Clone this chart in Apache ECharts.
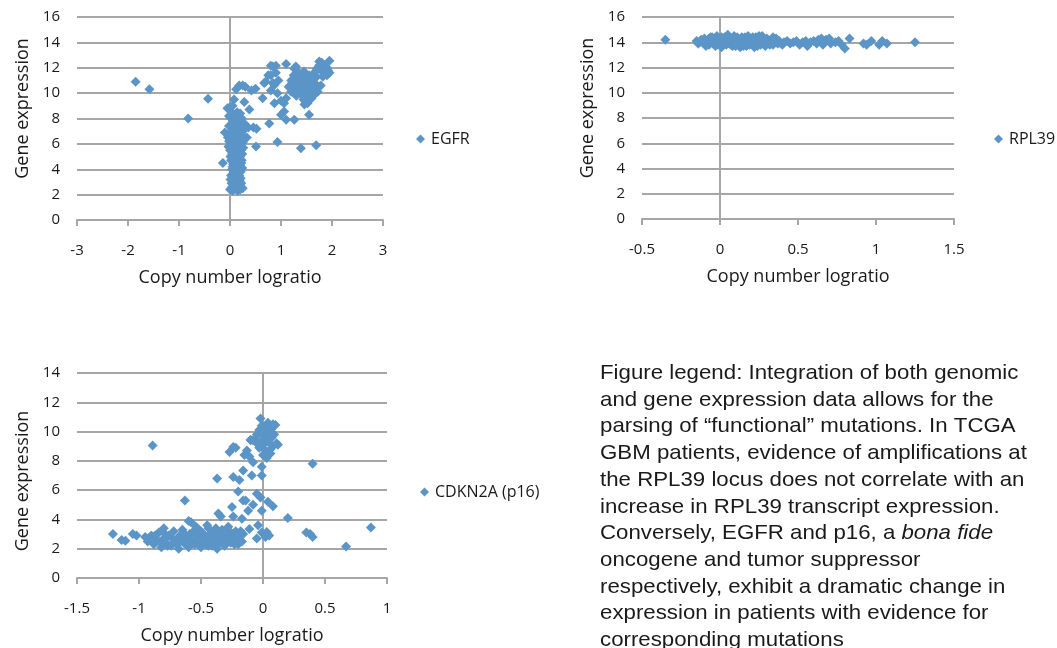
<!DOCTYPE html>
<html><head><meta charset="utf-8">
<script src="https://cdn.jsdelivr.net/npm/echarts@6/dist/echarts.min.js"></script>
<style>html,body{margin:0;padding:0;background:#fff}#c{width:1057px;height:648px}</style>
</head><body><div id="c"></div>
<script>
// ---------- DATA ----------
const egfrTicksX = [-3,-2,-1,0,1,2,3];
const rplTicksX = [-0.5,0,0.5,1,1.5];
const cdkTicksX = [-1.5,-1,-0.5,0,0.5,1];
const ticksY16 = [0,2,4,6,8,10,12,14,16];
const ticksY14 = [0,2,4,6,8,10,12,14];
const seriesNames = ['EGFR','RPL39','CDKN2A (p16)'];
const xAxisTitle = 'Copy number logratio';
const yAxisTitle = 'Gene expression';

const egfrPoints = [
[-1.85,10.9],[-1.58,10.3],[-0.82,8.0],[-0.43,9.55],[-0.14,4.5],
[0.0,2.4],[0.05,2.3],[0.1,2.5],[0.15,2.3],[0.2,2.4],[0.25,2.5],[0.08,2.8],[0.17,2.7],[0.03,2.9],[0.12,3.0],[0.22,2.9],
[0.06,3.2],[0.14,3.3],[0.19,3.1],[0.02,3.5],[0.1,3.6],[0.18,3.5],[0.07,3.8],[0.13,3.9],[0.21,3.8],[0.04,4.0],
[0.11,4.2],[0.16,4.1],[0.06,4.4],[0.14,4.5],[0.2,4.3],[0.02,4.7],[0.09,4.8],[0.17,4.9],[0.23,4.7],[0.12,5.0],
[0.04,5.2],[0.1,5.3],[0.18,5.2],[0.0,5.5],[0.07,5.6],[0.14,5.7],[0.22,5.5],[0.05,5.9],[0.12,5.9],[0.19,6.0],[-0.03,5.8],[0.26,5.7],
[0.02,6.2],[0.09,6.2],[0.16,6.3],[0.24,6.3],[-0.04,6.5],[0.06,6.5],[0.13,6.6],[0.2,6.6],[0.28,6.5],[0.0,6.8],[0.1,6.9],[0.17,6.8],[-0.1,6.9],[0.25,7.0],[0.33,6.5],
[0.04,7.1],[0.12,7.2],[0.19,7.1],[-0.02,7.4],[0.08,7.4],[0.15,7.5],[0.22,7.4],[0.05,7.7],[0.12,7.8],[0.2,7.8],[0.28,7.6],[0.36,7.3],[0.46,7.3],[0.52,7.2],
[0.02,8.0],[0.09,8.1],[0.16,8.2],[0.23,8.0],[0.06,8.4],[0.14,8.5],[0.2,8.4],[-0.02,8.2],
[0.08,3.4],[0.15,4.0],[0.03,6.0],[0.2,5.0],[0.11,6.4],[0.07,4.6],[0.16,3.0],[0.24,4.1],[0.01,3.2],[0.13,7.0],
[0.04,2.6],[0.19,2.6],[0.11,3.2],[0.17,3.8],[0.05,4.2],[0.22,4.5],[0.14,5.4],[0.08,5.8],[0.25,6.1],[0.03,6.9],[0.18,7.6],[0.1,8.2],
[0.21,3.3],[0.01,5.0],[0.24,5.2],[-0.02,6.2],[0.27,7.3],[0.09,7.9],[0.16,4.6],[0.12,2.7],
[-0.05,8.8],[0.0,8.9],[0.08,9.5],[0.05,9.0],[0.28,9.3],[0.38,8.7],[0.12,10.3],[0.18,10.6],[0.25,10.6],[0.3,10.5],[0.42,10.2],[0.5,10.35],
[0.64,9.6],[0.51,5.8],[0.77,7.6],[0.93,6.15],[1.39,5.65],[1.69,5.9],
[0.8,12.15],[0.9,12.15],[0.84,12.1],[1.1,12.3],[1.29,12.1],[1.26,11.95],[0.75,11.4],[0.8,11.4],[0.7,10.9],[0.67,10.8],[0.84,10.8],[0.87,10.65],
[0.8,10.2],[0.93,10.0],[0.87,9.2],[1.06,9.2],[1.1,9.6],[1.0,8.3],[1.06,8.55],[1.1,7.9],[1.26,7.9],[1.55,8.3],[0.9,11.6],[0.95,11.0],[1.0,9.4],
[1.2,11.0],[1.3,11.2],[1.35,10.8],[1.4,11.3],[1.45,10.9],[1.5,11.1],[1.55,10.7],[1.42,10.4],[1.32,10.3],[1.25,10.6],[1.38,10.0],[1.48,10.3],
[1.58,10.2],[1.62,10.4],[1.52,9.8],[1.44,9.5],[1.46,9.1],[1.52,9.2],[1.3,9.8],[1.2,10.1],[1.15,10.5],[1.35,11.6],[1.45,11.7],[1.55,11.4],
[1.6,11.0],[1.25,11.4],[1.4,10.6],[1.5,10.5],[1.33,10.6],[1.42,11.0],[1.6,9.6],[1.68,10.0],[1.72,10.1],[1.72,10.4],[1.78,10.6],[1.66,10.8],
[1.28,10.9],[1.37,11.0],[1.47,10.6],[1.53,11.0],[1.38,10.4],[1.34,11.4],[1.22,10.8],[1.57,10.0],[1.43,9.8],
[1.65,11.6],[1.7,11.9],[1.75,12.2],[1.8,12.4],[1.75,12.5],[1.85,12.2],[1.9,12.0],[1.95,12.55],[1.88,11.6],[1.95,11.6],[1.82,11.3],[1.78,11.8],[1.7,11.3],[1.9,11.4],[1.85,11.8],
[1.72,12.0],[1.83,12.0],[1.92,11.8]
];

const rplPoints = [
[-0.35,14.2],
[-0.15,14.1],[-0.13,14.0],[-0.12,14.2],[-0.1,13.9],[-0.1,14.3],[-0.08,14.1],[-0.07,13.8],[-0.06,14.4],[-0.05,14.0],[-0.04,14.2],[-0.03,13.7],[-0.02,14.5],[-0.01,14.1],
[0.0,13.9],[0.0,14.3],[0.01,13.6],[0.02,14.0],[0.03,14.4],[0.04,13.8],[0.05,14.2],[0.05,14.6],[0.06,13.9],[0.07,14.1],[0.08,13.7],[0.09,14.3],[0.1,14.0],
[0.11,14.4],[0.12,13.8],[0.13,14.2],[0.14,13.9],[0.15,14.1],[0.16,14.4],[0.17,13.7],[0.18,14.0],[0.19,14.3],[0.2,13.9],[0.21,14.1],[0.22,13.6],[0.23,14.4],
[0.24,14.0],[0.25,14.2],[0.26,13.8],[0.27,14.5],[0.28,14.1],[0.29,13.7],[0.3,14.3],[0.31,13.9],[0.32,14.1],[0.33,14.2],[0.34,13.8],[0.35,14.0],[0.36,14.3],
[0.37,13.9],[0.38,14.1],[0.4,13.8],[0.41,14.0],[0.43,14.1],[0.45,13.9],[0.47,14.0],[0.49,14.1],[0.51,13.8],[0.53,14.0],[0.55,14.1],[0.56,13.7],[0.58,14.0],
[0.6,14.1],[0.62,13.9],[0.63,14.2],[0.65,14.3],[0.66,13.8],[0.67,14.1],[0.68,14.2],[0.7,14.3],[0.71,13.9],[0.74,14.0],[0.76,14.1],[0.78,13.8],[0.8,13.5],
[0.83,14.3],[0.92,13.9],[0.94,13.8],[0.97,14.1],[1.02,13.8],[1.04,14.1],[1.07,13.9],[1.25,14.0],
[-0.09,13.7],[-0.02,13.8],[0.03,14.1],[0.06,14.3],[0.1,13.7],[0.12,14.1],[0.15,13.7],[0.18,14.5],[0.2,14.2],[0.24,13.7],[0.26,14.1],[0.28,13.9],
[0.3,14.0],[0.02,14.2],[-0.05,14.4],[0.14,14.4],[0.08,14.0],[0.22,13.9],[0.34,14.4],[0.16,13.9],
[-0.14,13.9],[-0.11,14.1],[-0.07,14.3],[-0.04,13.9],[0.01,14.4],[0.04,14.0],[0.07,13.8],[0.09,14.5],[0.11,13.9],[0.13,13.6],[0.17,14.2],[0.19,13.8],
[0.21,14.4],[0.23,13.8],[0.25,14.5],[0.27,13.9],[0.29,14.2],[0.32,13.8],[0.36,14.0],[0.39,13.9]
];

const cdkPoints = [
[-1.21,3.0],[-1.14,2.6],[-1.11,2.55],[-1.05,3.0],[-1.02,2.9],[-0.89,9.05],
[-0.95,2.8],[-0.93,2.5],[-0.9,2.9],[-0.88,2.3],[-0.86,2.6],[-0.84,3.1],[-0.82,2.1],[-0.8,2.7],[-0.8,3.4],[-0.78,2.4],[-0.76,2.9],[-0.74,2.2],
[-0.72,3.2],[-0.7,2.6],[-0.68,2.0],[-0.67,2.9],[-0.65,3.3],[-0.64,2.4],[-0.62,2.8],[-0.6,2.1],[-0.6,3.9],[-0.58,2.6],[-0.57,3.1],[-0.55,2.3],
[-0.54,3.5],[-0.52,2.8],[-0.5,2.1],[-0.5,3.2],[-0.48,2.5],[-0.47,2.9],[-0.45,3.6],[-0.44,2.2],[-0.42,2.7],[-0.41,3.1],[-0.4,2.4],[-0.38,3.4],
[-0.37,2.0],[-0.36,2.8],[-0.35,3.0],[-0.34,2.5],[-0.33,3.3],[-0.31,2.2],[-0.3,2.9],[-0.29,2.6],[-0.28,3.5],[-0.26,2.4],[-0.25,3.0],[-0.24,2.7],
[-0.22,3.2],[-0.2,2.3],[-0.19,2.8],[-0.17,2.5],[-0.16,3.0],[-0.56,2.5],[-0.46,2.3],[-0.39,2.7],[-0.32,2.6],[-0.27,2.8],[-0.53,2.9],[-0.43,3.0],
[-0.62,2.3],[-0.71,2.5],[-0.77,2.2],[-0.66,2.7],[-0.59,3.0],[-0.49,2.6],[-0.36,2.3],[-0.21,2.6],
[-0.92,2.7],[-0.87,2.9],[-0.83,2.5],[-0.79,3.0],[-0.73,2.7],[-0.69,2.3],[-0.63,3.0],[-0.58,2.3],[-0.51,2.5],[-0.46,2.7],[-0.41,2.2],[-0.37,3.2],
[-0.33,2.8],[-0.3,2.4],[-0.27,3.2],[-0.23,2.3],[-0.18,3.2],[-0.52,3.3],[-0.44,3.4],[-0.35,2.6],
[-0.63,5.3],[-0.37,6.8],[-0.34,4.2],[-0.58,3.8],
[-0.36,4.4],[-0.25,4.85],[-0.24,4.2],[-0.17,4.05],[-0.11,3.35],[-0.04,3.6],[-0.01,3.1],[0.03,3.15],[0.02,2.8],[-0.05,2.7],
[-0.2,5.9],[-0.16,5.3],[-0.14,5.3],[-0.05,5.75],[-0.02,5.5],[-0.01,4.6],[0.08,4.9],[0.04,5.2],
[-0.24,6.9],[-0.19,6.7],[-0.16,7.35],[-0.09,7.0],[-0.01,7.6],[-0.01,7.0],
[-0.24,8.95],[-0.27,8.6],[-0.22,8.9],[-0.13,8.7],[-0.11,8.3],[-0.08,7.9],[-0.15,8.4],[-0.1,9.4],[-0.12,4.6],[-0.08,5.0],
[-0.02,10.9],[0.04,10.6],[0.08,10.5],[0.1,10.45],[0.02,10.3],[-0.03,10.1],[0.05,10.0],[-0.05,9.8],[0.0,9.7],[0.07,9.6],[0.11,9.2],[0.12,9.1],
[-0.08,9.4],[-0.05,9.2],[0.0,9.1],[0.04,9.3],[0.08,9.0],[-0.03,8.9],[0.02,8.7],[0.06,8.8],[0.0,8.4],[0.03,8.2],[-0.06,9.5],[0.09,9.8],
[0.03,9.9],[-0.1,9.45],[0.06,8.5],[-0.01,10.4],[0.07,10.2],[0.01,9.5],[0.05,9.5],[-0.02,9.3],
[0.4,7.8],[0.2,4.1],[0.35,3.1],[0.38,3.0],[0.4,2.8],[0.67,2.15],[0.87,3.45],[0.05,2.9]
];

const captionLines = [
'Figure legend: Integration of both genomic',
'and gene expression data allows for the',
'parsing of \u201cfunctional\u201d mutations. In TCGA',
'GBM patients, evidence of amplifications at',
'the RPL39 locus does not correlate with an',
'increase in RPL39 transcript expression.',
'Conversely, EGFR and p16, a {i|bona fide}',
'oncogene and tumor suppressor',
'respectively, exhibit a dramatic change in',
'expression in patients with evidence for',
'corresponding mutations'
];

// ---------- STYLE ----------
const BLUE = '#5b95c8';
const GRID_C = '#a6a6a6';
const TXT = '#1a1a1a';
const FONT = '"Open Sans", sans-serif';
const CAP_FONT = 'Liberation Sans';

const grids = [
  {left:77, top:17, width:306, height:203},
  {left:642, top:17, width:312, height:202},
  {left:77, top:373, width:310, height:205}
];
const xTicks = [egfrTicksX, rplTicksX, cdkTicksX];
const yTicks = [ticksY16, ticksY16, ticksY14];
const pts = [egfrPoints, rplPoints, cdkPoints];
const yNamePad = [[0,0,0,20],[0,0,0,20],[0,11,0,0]];

function xAxisFor(i){
  const t = xTicks[i];
  return {type:'value', gridIndex:i, min:t[0], max:t[t.length-1], interval:t[1]-t[0],
    name:xAxisTitle, nameLocation:'middle', nameGap:49,
    nameTextStyle:{fontFamily:FONT, fontSize:18, color:TXT},
    axisLine:{show:true, onZero:false, lineStyle:{color:GRID_C, width:2}},
    axisTick:{show:true, length:6, lineStyle:{color:GRID_C, width:2}},
    axisLabel:{margin:23, fontFamily:FONT, fontSize:15, color:TXT},
    splitLine:{show:false}};
}
function yAxisFor(i){
  const t = yTicks[i];
  return {type:'value', gridIndex:i, min:t[0], max:t[t.length-1], interval:t[1]-t[0],
    name:yAxisTitle, nameLocation:'middle', nameGap:45, nameRotate:90,
    nameTextStyle:{fontFamily:FONT, fontSize:18, color:TXT, padding:yNamePad[i]},
    axisLine:{show:false}, axisTick:{show:false},
    axisLabel:{margin:17, fontFamily:FONT, fontSize:15, color:TXT},
    splitLine:{show:true, lineStyle:{color:GRID_C, width:2}}};
}

const legendPos = [
  {left:416, top:131},
  {left:994, top:131},
  {left:420, top:484}
];

const option = {
  animation:false,
  backgroundColor:'#fff',
  grid: grids,
  xAxis: [0,1,2].map(xAxisFor),
  yAxis: [0,1,2].map(yAxisFor),
  legend: [0,1,2].map(i => ({
    data:[seriesNames[i]], left:legendPos[i].left, top:legendPos[i].top, padding:0,
    icon:'diamond', itemWidth:9, itemHeight:9, itemGap:6,
    textStyle:{fontFamily:FONT, fontSize:16, color:TXT, padding:[0,0,0,1]}
  })),
  series: [0,1,2].map(i => ({
    name:seriesNames[i], type:'scatter', xAxisIndex:i, yAxisIndex:i,
    symbol:'diamond', symbolSize:10, z:3,
    itemStyle:{color:BLUE, opacity:1},
    data: pts[i],
    markLine:{silent:true, symbol:'none', z:1, label:{show:false},
      lineStyle:{color:GRID_C, width:2, type:'solid'},
      data:[{xAxis:0}]}
  })),
  graphic: captionLines.map((s, k) => ({
    type:'text', x:600, y: 373.3 + k*26.7, scaleX:1.06, silent:true,
    style:{text:s, fill:TXT, fontFamily:CAP_FONT, fontSize:21, verticalAlign:'middle', align:'left',
      rich:{i:{fontStyle:'italic', fontSize:21, fontFamily:CAP_FONT, fill:TXT}}}
  }))
};

const chart = echarts.init(document.getElementById('c'), null, {renderer:'canvas'});
chart.setOption(option);
</script>
</body></html>
